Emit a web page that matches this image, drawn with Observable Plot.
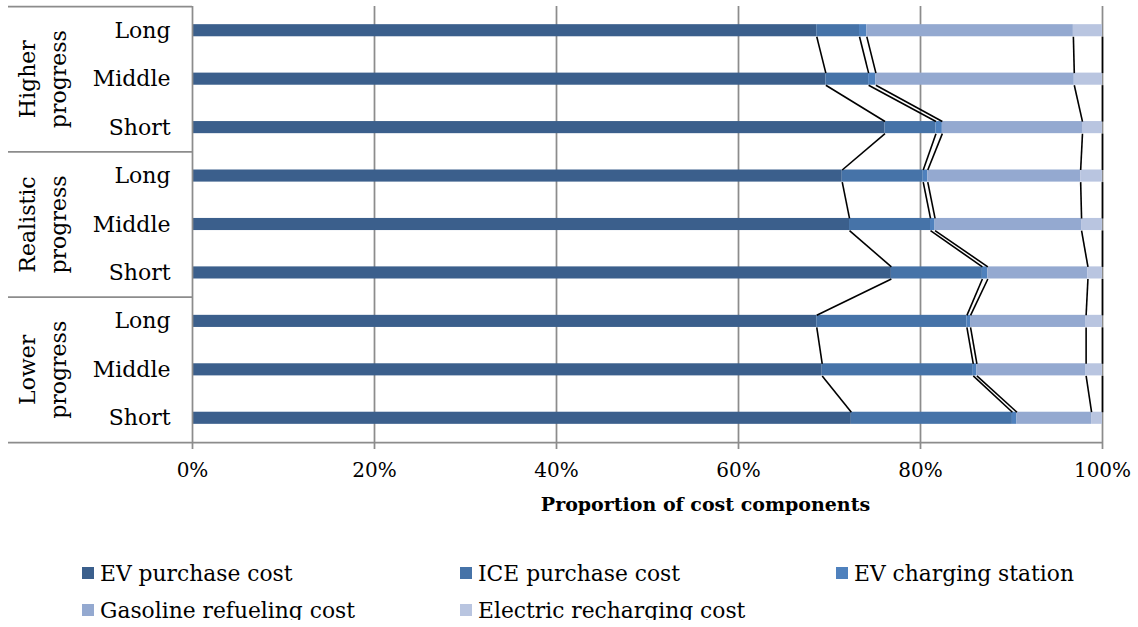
<!DOCTYPE html>
<html>
<head>
<meta charset="utf-8">
<script src="https://cdn.jsdelivr.net/npm/d3@7"></script>
<script src="https://cdn.jsdelivr.net/npm/@observablehq/plot@0.6"></script>
<style>
  html, body { margin: 0; padding: 0; background: #fff; }
  #chart svg { display: block; overflow: visible; }
  .legend { display: grid; grid-template-columns: 378px 376px 262px; row-gap: 17px;
            padding: 18px 0 0 82px; font-family: "DejaVu Serif", serif; font-size: 21.8px; color: #000; }
  .legend .item { display: flex; align-items: center; height: 20px; white-space: nowrap; }
  .legend .sw { width: 12px; height: 12px; margin-right: 6px; flex: none; }
</style>
</head>
<body>
<div id="chart"></div>
<div class="legend" id="legend"></div>
<script>
// ---- data (top to bottom) ----
const groups = ["Higher\nprogress", "Realistic\nprogress", "Lower\nprogress"];
const horizons = ["Long", "Middle", "Short"];
const components = ["EV purchase cost", "ICE purchase cost", "EV charging station", "Gasoline refueling cost", "Electric recharging cost"];
const colors = ["#3b5f8c", "#4673a8", "#4f81bd", "#94a9d0", "#b9c5e0"];
// shares (%) per bar: Higher Long, Middle, Short, Realistic Long, Middle, Short, Lower Long, Middle, Short
const evPurchase = [68.6, 69.6, 76.1, 71.4, 72.2, 76.8, 68.6, 69.2, 72.4];
const icePurchase = [4.7, 4.7, 5.6, 8.9, 8.9, 10.0, 16.5, 16.6, 17.7];
const evCharging = [0.8, 0.8, 0.7, 0.5, 0.5, 0.6, 0.4, 0.4, 0.5];
const gasolineRefueling = [22.7, 21.8, 15.4, 16.8, 16.1, 11.0, 12.7, 12.0, 8.2];
const electricRecharging = [3.2, 3.1, 2.2, 2.4, 2.3, 1.6, 1.8, 1.8, 1.2];
const xTicks = [0, 20, 40, 60, 80, 100];
const axisTitle = "Proportion of cost components";

const series = [evPurchase, icePurchase, evCharging, gasolineRefueling, electricRecharging];
const nBars = evPurchase.length;
const barThick = 0.25;     // in band units
const gray = "#8c8c8c";

// bar rows
const rows = [];
groups.forEach((g, gi) => horizons.forEach((h, hi) => rows.push({idx: gi * 3 + hi, group: g, horizon: h})));

// stacked segments
const segs = [];
const bounds = components.map(() => []); // cumulative end per component per bar
for (let i = 0; i < nBars; i++) {
  let acc = 0;
  series.forEach((s, k) => {
    segs.push({idx: i, comp: components[k], x1: acc, x2: acc + s[i]});
    acc += s[i];
    bounds[k].push(acc);
  });
}
// series lines between consecutive bars
const links = [];
bounds.forEach((b, k) => {
  for (let i = 0; i < nBars - 1; i++) {
    links.push({x1: b[i], y1: i + barThick / 2, x2: b[i + 1], y2: i + 1 - barThick / 2});
  }
});
const groupSeps = [-0.5, 2.5, 5.5];
const groupCenters = groups.map((g, gi) => ({label: g, y: gi * 3 + 1}));

const W = 1138, H = 545;
const plot = Plot.plot({
  width: W,
  height: H,
  marginLeft: 192,
  marginRight: 36,
  marginTop: 6,
  marginBottom: 103,
  style: {fontFamily: "DejaVu Serif, serif", fontSize: "20px", color: "#000", background: "#fff"},
  x: {domain: [0, 100], axis: null},
  y: {domain: [-0.5, nBars - 0.5], reverse: true, axis: null},
  color: {domain: components, range: colors},
  marks: [
    // gridlines + ticks
    Plot.ruleX(xTicks.filter(d => d > 0), {stroke: gray, strokeWidth: 1.75, insetBottom: -7}),
    // group separators on the left
    Plot.ruleY(groupSeps, {x1: 0, x2: 0, insetLeft: -184, stroke: gray, strokeWidth: 1.75}),
    // bottom axis line
    Plot.ruleY([nBars - 0.5], {x1: 0, x2: 100, insetLeft: -184, stroke: gray, strokeWidth: 1.75}),
    // bars
    Plot.rect(segs, {x1: "x1", x2: "x2", y1: d => d.idx - barThick / 2, y2: d => d.idx + barThick / 2, fill: "comp"}),
    // series lines
    Plot.link(links, {x1: "x1", y1: "y1", x2: "x2", y2: "y2", stroke: "#000", strokeWidth: 1.6}),
    // vertical axis line
    Plot.ruleX([0], {stroke: gray, strokeWidth: 1.75, insetBottom: -7}),
    // category labels
    Plot.text(rows, {x: 0, y: "idx", text: "horizon", textAnchor: "end", dx: -22, fontSize: 22, fill: "#000"}),
    // group labels
    Plot.text(groupCenters, {x: 0, y: "y", text: "label", rotate: -90, dx: -152, fontSize: 22, lineHeight: 1.4, fill: "#000"}),
    // x tick labels
    Plot.text(xTicks, {x: d => d, y: nBars - 0.5, text: d => `${d}%`, dy: 28, fontSize: 20, fill: "#000"}),
    // axis title
    Plot.text([axisTitle], {frameAnchor: "bottom", text: d => d, dx: 58, dy: 68, fontSize: 19, fontWeight: "bold", fill: "#000"})
  ]
});
document.getElementById("chart").appendChild(plot);

const legend = document.getElementById("legend");
components.forEach((c, k) => {
  const it = document.createElement("div");
  it.className = "item";
  const sw = document.createElement("span");
  sw.className = "sw";
  sw.style.background = colors[k];
  it.appendChild(sw);
  it.appendChild(document.createTextNode(c));
  legend.appendChild(it);
});
</script>
</body>
</html>
